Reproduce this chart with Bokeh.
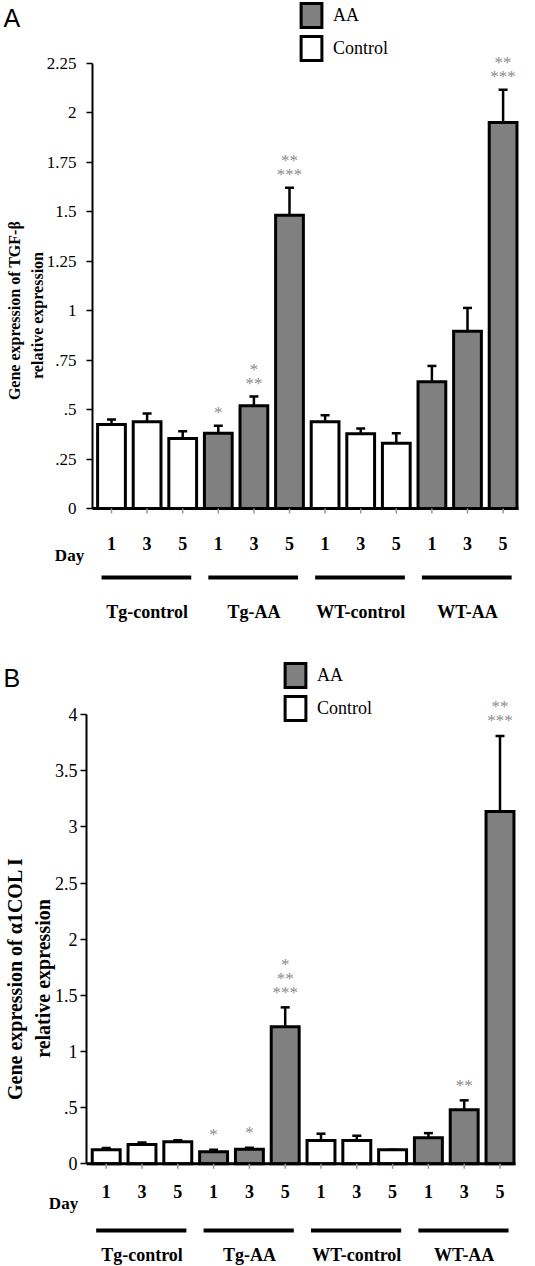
import math
from bokeh.plotting import figure
from bokeh.models import (Range1d, FixedTicker, Legend, LegendItem,
                          ColumnDataSource, Whisker, TeeHead)
from bokeh.layouts import column
from bokeh.core.properties import value
from bokeh.embed import file_html
from bokeh.resources import INLINE

# ---------------- data ----------------
groups = ["Tg-control", "Tg-AA", "WT-control", "WT-AA"]
group_treatment = ["Control", "AA", "Control", "AA"]
days = ["1", "3", "5"]

# Panel A: TGF-beta
tgf_mean = [0.424, 0.438, 0.354, 0.380, 0.519, 1.481, 0.438, 0.377, 0.330, 0.640, 0.895, 1.950]
tgf_err = [0.026, 0.042, 0.036, 0.038, 0.047, 0.139, 0.033, 0.027, 0.050, 0.080, 0.118, 0.165]
tgf_stars = [[], [], [], ["*"], ["*", "**"], ["**", "***"], [], [], [], [], [], ["**", "***"]]
tgf_ticks = [0, 0.25, 0.5, 0.75, 1, 1.25, 1.5, 1.75, 2, 2.25]
tgf_tick_labels = ["0", ".25", ".5", ".75", "1", "1.25", "1.5", "1.75", "2", "2.25"]

# Panel B: alpha1 COL I
col_mean = [0.125, 0.172, 0.196, 0.107, 0.130, 1.220, 0.208, 0.208, 0.125, 0.232, 0.482, 3.137]
col_err = [0.015, 0.018, 0.014, 0.018, 0.013, 0.173, 0.060, 0.042, 0.0, 0.041, 0.083, 0.673]
col_stars = [[], [], [], ["*"], ["*"], ["*", "**", "***"], [], [], [], [], ["**"], ["**", "***"]]
col_ticks = [0, 0.5, 1, 1.5, 2, 2.5, 3, 3.5, 4]
col_tick_labels = ["0", ".5", "1", "1.5", "2", "2.5", "3", "3.5", "4"]

SERIF = "Liberation Serif"
SANS = "Liberation Sans"
GRAY = "#808080"
STAR = "#8c8c8c"
W = 535


def make_panel(letter, mean, err, stars, ticks, tick_labels, title_lines, L):
    n = len(mean)
    x_of = lambda xr: (xr - L["bar0"]) / L["pitch"]
    y_of = lambda yr: (L["zero"] - yr) / L["ppu"]

    p = figure(width=W, height=L["h"], output_backend="svg", toolbar_location=None,
               x_axis_location=None, y_axis_location="left", title=None,
               x_range=Range1d(x_of(0), x_of(W)),
               y_range=Range1d(y_of(L["top"] + L["h"]), y_of(L["top"])),
               min_border_left=0, min_border_right=0,
               min_border_top=0, min_border_bottom=0)
    p.outline_line_color = None
    p.grid.grid_line_color = None

    xs = list(range(n))
    treat = [t for t in group_treatment for _ in days]
    upper = [m + e for m, e in zip(mean, err)]

    rends = {}
    for t, color in (("AA", GRAY), ("Control", "white")):
        idx = [i for i in range(n) if treat[i] == t]
        s = ColumnDataSource(dict(x=[xs[i] for i in idx], top=[mean[i] for i in idx]))
        rends[t] = p.vbar(x="x", top="top", bottom=0, width=0.78, source=s,
                          fill_color=color, line_color="black", line_width=3,
                          line_join="miter")

    # error bars (upper only)
    wsrc = ColumnDataSource(dict(x=xs, lower=mean, upper=upper))
    p.add_layout(Whisker(source=wsrc, base="x", lower="lower", upper="upper",
                         dimension="height", line_width=2.5, line_color="black",
                         upper_head=TeeHead(size=9, line_width=2.5, line_color="black"),
                         lower_head=None, level="glyph"))

    # significance stars
    sx, sy, st, so = [], [], [], []
    for i, lines in enumerate(stars):
        for k, line in enumerate(reversed(lines)):
            sx.append(i); sy.append(upper[i]); st.append(line)
            so.append(-(L["star_gap"] + k * L["star_step"]))
    p.text(x="x", y="y", text="t", y_offset="o",
           source=ColumnDataSource(dict(x=sx, y=sy, t=st, o=so)),
           text_font=value(SERIF), text_font_size="17px", text_color=STAR,
           text_align="center", text_baseline="middle")

    # baseline and small ticks
    p.segment(x0=[x_of(L["axis_x"])], y0=[0], x1=[n - 1 + 0.43], y1=[0],
              line_color="black", line_width=3)
    p.segment(x0=xs, y0=[0] * n, x1=xs, y1=[-5 / L["ppu"]] * n,
              line_color="#999999", line_width=1.5)

    # day numbers
    p.text(x=xs, y=[y_of(L["day_y"])] * n, text=days * len(groups),
           text_font=value(SERIF), text_font_style="bold", text_font_size="18px",
           text_color="black", text_align="center", text_baseline="middle")

    # group lines and labels
    g0 = [3 * g - 0.28 for g in range(len(groups))]
    g1 = [3 * g + 2 + 0.24 for g in range(len(groups))]
    gy = y_of(L["gline_y"])
    p.segment(x0=g0, y0=[gy] * len(groups), x1=g1, y1=[gy] * len(groups),
              line_color="black", line_width=4)
    p.text(x=[3 * g + 1 for g in range(len(groups))], y=[y_of(L["glabel_y"])] * len(groups),
           text=groups, text_font=value(SERIF), text_font_style="bold",
           text_font_size="18px", text_color="black", text_align="center",
           text_baseline="middle")

    # y axis placed at the bar-chart origin
    ax = p.yaxis[0]
    ax.fixed_location = x_of(L["axis_x"])
    ax.bounds = (ticks[0], ticks[-1])
    ax.ticker = FixedTicker(ticks=ticks)
    ax.major_label_overrides = {float(t): s for t, s in zip(ticks, tick_labels)}
    ax.minor_tick_line_color = None
    ax.major_tick_in = 0
    ax.major_tick_out = 6
    ax.major_tick_line_width = 1.5
    ax.axis_line_width = 2
    ax.major_label_standoff = L["standoff"]
    ax.major_label_text_font = SERIF
    ax.major_label_text_font_size = L["tick_fs"]
    ax.major_label_text_color = "black"

    # "Day", panel letter, y titles
    p.text(x=[x_of(L["day_word"][0])], y=[y_of(L["day_word"][1])], text=["Day"],
           text_font=value(SERIF), text_font_style="bold", text_font_size="17px",
           text_color="black", text_align="center", text_baseline="middle")
    p.text(x=[x_of(L["letter"][0])], y=[y_of(L["letter"][1])], text=[letter],
           text_font=value(SANS), text_font_size="25px", text_color="black",
           text_align="left", text_baseline="middle")
    p.text(x=[x_of(t[0]) for t in L["titles"]], y=[y_of(t[1]) for t in L["titles"]],
           text=title_lines, angle=math.pi / 2,
           text_font=value(SERIF), text_font_style="bold", text_font_size=L["title_fs"],
           text_color="black", text_align="center", text_baseline="middle")

    # legend
    gh, sp = 30, 3
    leg_h = 2 * gh + sp
    legend = Legend(items=[LegendItem(label="AA", renderers=[rends["AA"]]),
                           LegendItem(label="Control", renderers=[rends["Control"]])],
                    location=(L["leg_x"], L["top"] + L["h"] - (L["leg_top"] + leg_h)),
                    glyph_width=26, glyph_height=gh, spacing=sp, padding=0, margin=0,
                    label_standoff=9, label_text_font=SERIF, label_text_font_size="18px",
                    label_text_color="black",
                    border_line_color=None, background_fill_alpha=0)
    p.add_layout(legend)
    return p


LA = dict(axis_x=92, bar0=111, pitch=35.6, zero=508, ppu=198, top=0, h=628,
          day_y=543, day_word=(69, 555), gline_y=577, glabel_y=611,
          letter=(3, 17), titles=[(13.5, 310), (37, 315)], title_fs="16px",
          tick_fs="17px", standoff=10, star_gap=13, star_step=14,
          leg_x=298, leg_top=0)
LB = dict(axis_x=86, bar0=105.7, pitch=35.8, zero=1163.3, ppu=112.3, top=628, h=638,
          day_y=1190.7, day_word=(63, 1203), gline_y=1230, glabel_y=1254,
          letter=(3, 677), titles=[(14.5, 978), (42, 978)], title_fs="20px",
          tick_fs="18px", standoff=3, star_gap=15, star_step=14,
          leg_x=282, leg_top=660)

pA = make_panel("A", tgf_mean, tgf_err, tgf_stars, tgf_ticks, tgf_tick_labels,
                ["Gene expression of TGF-β", "relative expression"], LA)
pB = make_panel("B", col_mean, col_err, col_stars, col_ticks, col_tick_labels,
                ["Gene expression of α1COL I", "relative expression"], LB)

layout = column(pA, pB, spacing=0)
open("out.html", "w").write(file_html(layout, INLINE))
